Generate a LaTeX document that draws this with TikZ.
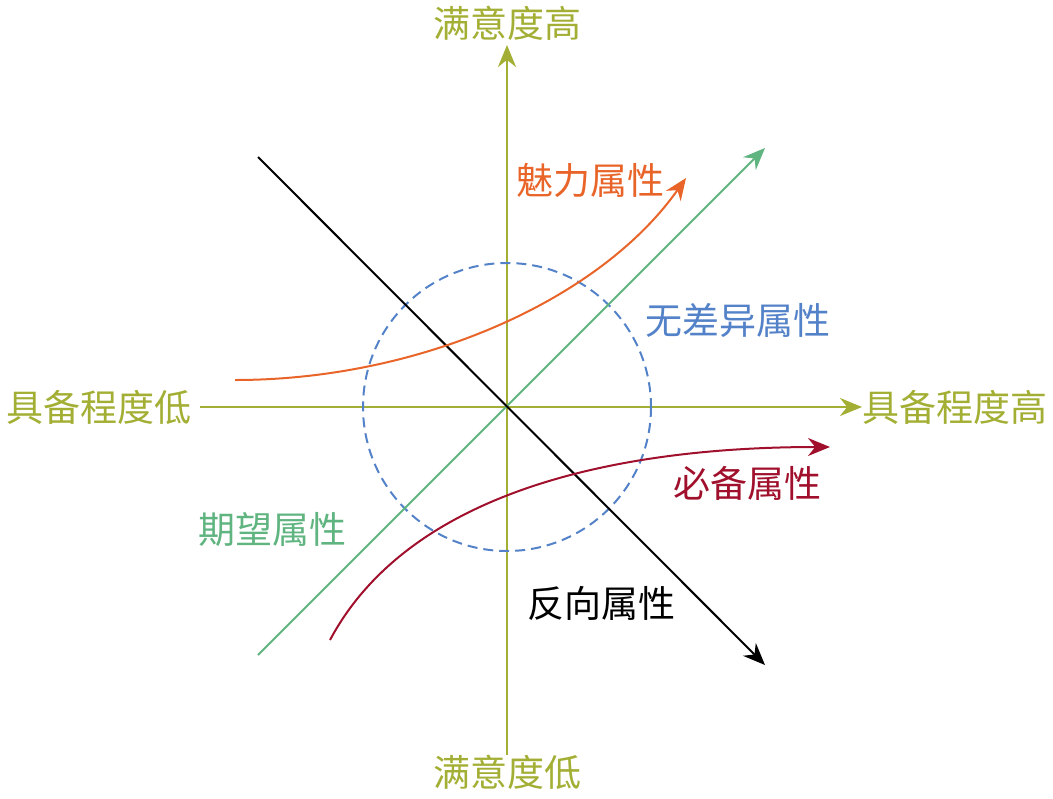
\documentclass[tikz,border=0pt]{standalone}
\usepackage{fontspec}
\setmainfont{Noto Sans CJK SC}
\usetikzlibrary{positioning, arrows.meta}

\definecolor{axisc}{RGB}{163,175,52}
\definecolor{attrc}{RGB}{232,100,40}
\definecolor{mustc}{RGB}{160,16,44}
\definecolor{expc}{RGB}{96,180,128}
\definecolor{indc}{RGB}{84,130,200}

\begin{document}
\begin{tikzpicture}[
        x=0.5pt, y=-0.5pt,
        lbl/.style   = {font=\fontsize{18.5}{22}\selectfont, inner sep=0pt},
        axis/.style  = {draw=axisc, line width=1.4pt, -{Stealth[length=11pt, width=9pt]}},
        curve/.style = {line width=1pt, -{Stealth[length=11pt, width=9pt]}},
    ]
        \useasboundingbox (0,0) rectangle (1053,798);

        % axes
        \coordinate (o) at (507,407);
        \coordinate (xl) at (200,407);
        \coordinate (xr) at (862,407);
        \coordinate (yb) at (507,755);
        \coordinate (yt) at (507,45);
        \draw[axis] (xl) -- (xr);
        \draw[axis] (yb) -- (yt);
        \node[lbl, text=axisc, left=4pt of xl] (lowx) {具备程度低};
        \node[lbl, text=axisc, right=0pt of xr] (highx) {具备程度高};
        \node[lbl, text=axisc, above=2pt of yt] (highy) {满意度高};
        \node[lbl, text=axisc, below=0pt of yb] (lowy) {满意度低};

        % indifferent
        \draw[indc, dashed, line width=1pt, dash pattern=on 5pt off 3pt] (o) circle[radius=144];
        \node[lbl, text=indc] (ind) at (738,320) {无差异属性};

        % one-dimensional
        \coordinate (e1) at (258,655);
        \coordinate (e2) at (765,148);
        \draw[curve, expc] (e1) -- (e2);
        \node[lbl, text=expc] (exp) at (272,530) {期望属性};

        % reverse
        \coordinate (r1) at (258,157);
        \coordinate (r2) at (765,665);
        \draw[curve, black] (r1) -- (r2);
        \node[lbl, text=black] (rev) at (601,603) {反向属性};

        % attractive
        \coordinate (a1) at (235,380);
        \coordinate (a2) at (686,178);
        \draw[curve, attrc] (a1) .. controls (420,380) and (600,300) .. (a2);
        \node[lbl, text=attrc] (att) at (590,180) {魅力属性};

        % must-be
        \coordinate (m1) at (330,640);
        \coordinate (m2) at (830,447);
        \draw[curve, mustc] (m1) .. controls (410,490) and (620,447) .. (m2);
        \node[lbl, text=mustc] (must) at (747,483) {必备属性};
    \end{tikzpicture}
\end{document}
